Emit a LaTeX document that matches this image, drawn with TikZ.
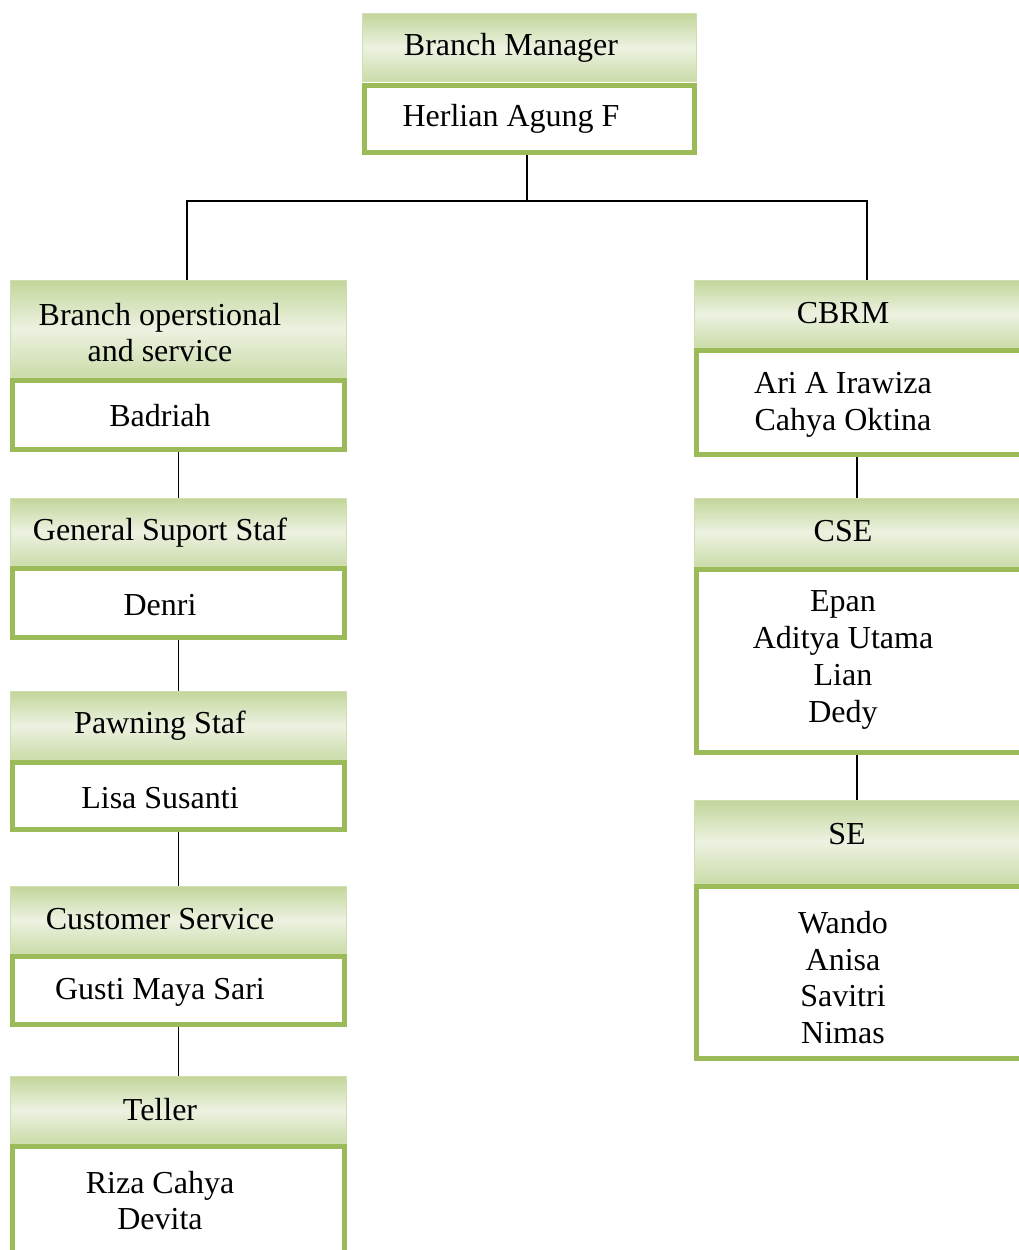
\documentclass[tikz,border=0pt]{standalone}
\usepackage{fontspec}
\setmainfont{Liberation Serif}
\definecolor{boxgreen}{RGB}{155,187,89}
\definecolor{headline}{RGB}{208,223,178}
\definecolor{headdark}{RGB}{195,214,155}
\definecolor{headlight}{RGB}{236,242,225}
\newcommand{\pxu}{0.75pt}
\tikzset{
  hdbox/.style={draw=headline, line width=0.75pt, top color=headdark, bottom color=headdark!80!headlight, middle color=headlight, inner sep=0pt},
  bdbox/.style={draw=boxgreen, line width=3.75pt, fill=white, inner sep=0pt},
  lhead/.style={hdbox, minimum width=336*\pxu},
  lbody/.style={bdbox, minimum width=332*\pxu},
  rhead/.style={hdbox, minimum width=334*\pxu},
  rbody/.style={bdbox, minimum width=329*\pxu},
  txt/.style={align=center, font=\fontsize{24}{27.6}\selectfont, inner sep=0pt, yshift=-2.25pt}
}

\begin{document}
\begin{tikzpicture}[x=0.75pt,y=-0.75pt]
		\useasboundingbox (0,0) rectangle (1019,1250);
		\clip (0,0) rectangle (1019,1250);
		
		% branch manager
		\node[hdbox, minimum width=334*\pxu, minimum height=68*\pxu] (bmHead) at (529.5,47.5) {};
		\node[bdbox, minimum width=330*\pxu, minimum height=67*\pxu] (bmBody) at (529.5,119) {};
		\node[txt] (bmTitle) at (511,45) {Branch Manager};
		\node[txt] (bmName) at (511,116) {Herlian Agung F};
		
		% left column
		\node[lhead, minimum height=97*\pxu] (bosHead) at (178.5,329) {};
		\node[lbody, minimum height=69*\pxu] (bosBody) at (178.5,415) {};
		\node[txt] (bosTitle) at (160,329.5) {Branch operstional\\and service};
		\node[txt] (bosName) at (160,413) {Badriah};
		
		\node[lhead, minimum height=67*\pxu] (gssHead) at (178.5,532) {};
		\node[lbody, minimum height=69*\pxu] (gssBody) at (178.5,603) {};
		\node[txt] (gssTitle) at (160,530) {General Suport Staf};
		\node[txt] (gssName) at (160,602) {Denri};
		
		\node[lhead, minimum height=68*\pxu] (psHead) at (178.5,725.5) {};
		\node[lbody, minimum height=67*\pxu] (psBody) at (178.5,796) {};
		\node[txt] (psTitle) at (160,723) {Pawning Staf};
		\node[txt] (psName) at (160,795) {Lisa Susanti};
		
		\node[lhead, minimum height=67*\pxu] (csHead) at (178.5,920) {};
		\node[lbody, minimum height=68*\pxu] (csBody) at (178.5,990.5) {};
		\node[txt] (csTitle) at (160,916) {Customer Service};
		\node[txt] (csName) at (160,989) {Gusti Maya Sari};
		
		\node[lhead, minimum height=67*\pxu] (tlHead) at (178.5,1110) {};
		\node[lbody, minimum height=120*\pxu] (tlBody) at (178.5,1206) {};
		\node[txt] (tlTitle) at (160,1107) {Teller};
		\node[txt] (tlName) at (160,1197.5) {Riza Cahya\\Devita};
		
		% right column
		\node[rhead, minimum height=67*\pxu] (cbrmHead) at (861,314) {};
		\node[rbody, minimum height=104*\pxu] (cbrmBody) at (861,402.5) {};
		\node[txt] (cbrmTitle) at (843,310) {CBRM};
		\node[txt] (cbrmName) at (843,401.5) {Ari A Irawiza\\Cahya Oktina};
		
		\node[rhead, minimum height=68*\pxu] (cseHead) at (861,532.5) {};
		\node[rbody, minimum height=183*\pxu] (cseBody) at (861,661) {};
		\node[txt] (cseTitle) at (843,528) {CSE};
		\node[txt] (cseName) at (843,657) {Epan\\Aditya Utama\\Lian\\Dedy};
		
		\node[rhead, minimum height=83*\pxu] (seHead) at (861,842) {};
		\node[rbody, minimum height=172*\pxu] (seBody) at (861,972.5) {};
		\node[txt] (seTitle) at (847,831) {SE};
		\node[txt] (seName) at (843,974.5) {Wando\\Anisa\\Savitri\\Nimas};
		
		% connectors
		\begin{scope}[line width=1.3pt]
		\coordinate (split) at (527,201);
		\draw (bmBody.south -| split) -- (split);
		\draw ([xshift=6.4pt]bosHead.north) |- (split) -| ([xshift=4.5pt]cbrmHead.north);
		\draw (bosBody.south) -- (gssHead.north);
		\draw (gssBody.south) -- (psHead.north);
		\draw (psBody.south) -- (csHead.north);
		\draw (csBody.south) -- (tlHead.north);
		\draw ([xshift=-3pt]cbrmBody.south) -- ([xshift=-3pt]cseHead.north);
		\draw ([xshift=-3pt]cseBody.south) -- ([xshift=-3pt]seHead.north);
		\end{scope}
	\end{tikzpicture}
\end{document}
